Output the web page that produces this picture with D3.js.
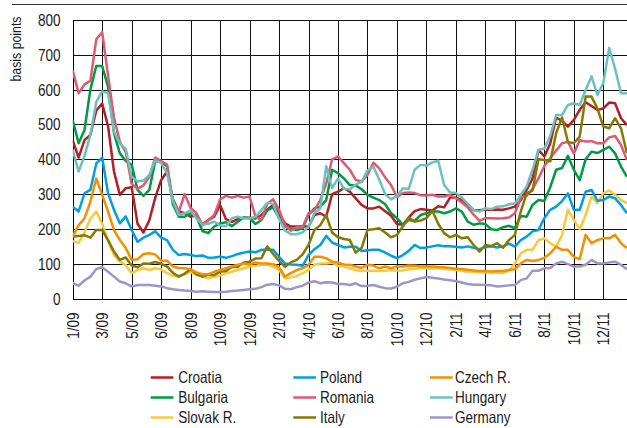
<!DOCTYPE html>
<html><head><meta charset="utf-8">
<script src="https://cdn.jsdelivr.net/npm/d3@7"></script>
<style>
body{margin:0;background:#fff}
svg text{font-family:"Liberation Sans",Arial,sans-serif;fill:#1a1a1a}
</style></head><body>
<svg id="c" width="627" height="428"></svg>
<script>
// x labels (equally spaced ticks); 5 samples per tick interval
const tickLabels = ["1/09","3/09","5/09","6/09","8/09","10/09","12/09","2/10","4/10","6/10","8/10","10/10","12/10","2/11","4/11","6/11","8/11","10/11","12/11"];
const yTicks = [0,100,200,300,400,500,600,700,800];
const samplesPerTick = 5;

const croatia = [455,405,455,470,540, 560,495,365,298,317, 320,215,190,225,290, 340,365,285,250,245,
  235,240,213,226,235, 269,228,220,228,232, 232,230,240,255,269, 245,216,207,207,207,
  207,240,245,235,300, 307,317,307,288,269, 259,259,264,251,238, 214,212,233,251,257,
  255,253,265,262,290, 290,283,269,254,254, 256,255,256,255,259, 264,283,312,345,427,
  408,446,520,510,494, 513,542,564,553,542, 546,563,561,518,498];
const bulgaria = [513,446,484,600,668, 668,608,475,417,395, 385,312,295,312,395, 392,380,270,235,235,
  245,236,194,188,207, 216,219,208,221,233, 231,214,226,253,262, 231,207,201,197,202,
  240,259,264,283,370, 360,345,326,325,314, 298,290,283,271,245, 231,211,226,223,240,
  245,250,250,245,250, 259,250,221,212,216, 214,199,197,205,209, 202,237,235,269,283,
  280,320,370,375,410, 370,340,400,422,418, 427,436,417,379,350];
const slovak = [165,160,190,230,250, 215,165,125,106,96, 73,82,87,82,87, 84,73,65,65,69,
  77,68,63,58,63, 66,73,77,82,87, 92,94,97,97,92, 82,58,61,65,73,
  82,97,101,101,103, 94,92,87,82,79, 80,80,79,80,82, 80,81,84,86,87,
  87,86,87,85,84, 82,80,78,77,76, 75,74,74,74,80, 101,130,140,140,168,
  173,159,149,183,255, 226,199,240,293,274, 302,310,298,283,274];
const poland = [264,250,302,312,388, 405,302,255,216,236, 197,163,175,183,193, 175,168,140,125,128,
  125,122,124,117,118, 120,117,122,128,132, 135,133,140,140,140, 120,101,98,97,94,
  125,142,154,180,161, 154,147,149,149,137, 139,140,140,132,123, 116,125,137,154,145,
  147,150,153,150,150, 149,147,150,146,142, 148,150,147,150,158, 149,168,178,193,197,
  231,255,264,280,302, 255,255,307,312,281, 283,293,288,269,245];
const romania = [655,590,615,625,745, 765,640,520,450,420, 330,315,325,350,405, 395,385,279,250,300,
  260,245,210,225,240, 285,295,290,295,290, 293,235,226,272,285, 255,210,195,205,205,
  245,254,283,330,400, 408,389,370,341,336, 355,390,374,348,326, 291,303,305,303,297,
  296,298,293,293,298, 288,276,262,241,223, 231,231,230,231,233, 245,290,295,315,345,
  381,403,425,446,450, 417,455,451,452,446, 446,463,467,441,398];
const italy = [178,180,182,175,197, 197,168,135,111,118, 95,90,101,100,105, 100,92,74,63,72,
  84,70,63,68,68, 77,79,91,91,104, 106,115,116,150,128, 108,91,104,111,127,
  154,197,211,240,190, 176,171,168,132,145, 197,199,202,190,176, 183,207,233,221,224,
  231,252,215,188,176, 183,173,176,154,135, 154,151,159,146,168, 183,250,302,310,400,
  398,394,475,520,450, 446,465,580,580,546, 494,489,518,489,418];
const czech = [178,211,230,278,345, 298,250,197,168,145, 111,113,128,130,127, 109,109,92,88,87,
  84,75,70,70,77, 82,87,92,97,101, 98,104,101,101,99, 90,63,73,82,87,
  97,120,120,116,106, 103,98,97,92,88, 97,95,87,92,87, 92,92,95,94,92,
  92,92,91,90,88, 86,85,83,81,79, 79,78,79,79,82, 84,101,111,108,111,
  117,130,149,140,140, 120,113,183,159,168, 173,173,183,159,145];
const hungary = [427,365,410,470,565, 595,590,480,445,430, 350,336,339,355,398, 389,360,280,240,245,
  253,230,213,215,221, 210,208,231,235,230, 230,235,254,275,272, 228,196,185,185,190,
  207,245,259,380,317, 345,315,314,327,335, 368,379,341,300,285, 295,317,315,370,384,
  382,391,396,326,305, 303,290,272,254,250, 259,257,264,265,271, 273,298,322,370,427,
  431,467,527,527,556, 561,556,599,638,585, 619,720,660,590,590];
const germany = [44,37,52,63,85, 90,77,63,49,44, 35,39,39,39,37, 35,30,27,25,23,
  22,20,21,20,19, 19,20,22,23,25, 27,28,33,40,42, 38,28,27,33,37,
  46,50,44,47,46, 42,42,39,44,36, 37,39,34,30,29, 34,44,48,54,58,
  62,60,58,55,53, 50,46,42,40,40, 39,38,35,36,38, 39,53,58,80,80,
  87,88,101,106,99, 92,92,97,111,101, 101,104,106,97,84];

const names = ["Croatia","Bulgaria","Slovak R.","Poland","Romania","Italy","Czech R.","Hungary","Germany"];
const valuesList = [croatia,bulgaria,slovak,poland,romania,italy,czech,hungary,germany];
const colors = ["#b41f24","#009a44","#f8c93c","#009fdf","#dc5a72","#857a00","#f29100","#6cc0be","#9d95c9"];

const W = 627, H = 428;
const M = {left:72.7, right:626, top:20, bottom:298.6};
const svg = d3.select("#c");

// condense text like a narrow face
function condense(sel, f){
  sel.each(function(){
    const w = this.getComputedTextLength();
    d3.select(this).attr("textLength", w*f).attr("lengthAdjust","spacingAndGlyphs");
  });
}
const snap = v => Math.round(v) + 0.5;

// top rule
svg.append("line").attr("x1",12).attr("x2",627).attr("y1",4.5).attr("y2",4.5)
  .attr("stroke","#333").attr("stroke-width",1);

const x = d3.scaleLinear().domain([0,18.77]).range([M.left,M.right]);
const y = d3.scaleLinear().domain([0,800]).range([M.bottom,M.top]);

// y axis with grid
const gy = svg.append("g").attr("transform",`translate(${snap(M.left)-0.5},0)`)
  .call(d3.axisLeft(y).tickValues(yTicks).tickSize(-(W-M.left)).tickPadding(12.5).tickFormat(d3.format("d")));
gy.select(".domain").remove();
gy.selectAll(".tick").attr("transform", d => `translate(0,${snap(y(d))})`);
gy.selectAll(".tick line").attr("stroke","#111").attr("stroke-width",1);
gy.selectAll(".tick text").style("font-size","16.5px").attr("fill","#1a1a1a");
condense(gy.selectAll(".tick text"), 0.82);

// x axis with grid
const gx = svg.append("g").attr("transform",`translate(0,${snap(M.bottom)-0.5})`)
  .call(d3.axisBottom(x).tickValues(d3.range(tickLabels.length)).tickSize(-(M.bottom-M.top)).tickFormat(i=>tickLabels[i]));
gx.select(".domain").remove();
gx.selectAll(".tick").attr("transform", d => `translate(${snap(x(d))},0)`);
gx.selectAll(".tick line").attr("stroke","#111").attr("stroke-width",1);
gx.selectAll(".tick text").style("font-size","16.5px").attr("fill","#1a1a1a")
  .attr("transform","rotate(-90)").attr("x",-13.4).attr("y",0).attr("dy","0.35em")
  .style("text-anchor","end");
condense(gx.selectAll(".tick text"), 0.82);

// frame left & bottom
svg.append("line").attr("x1",snap(M.left)).attr("x2",snap(M.left)).attr("y1",snap(M.top)).attr("y2",snap(M.bottom)).attr("stroke","#000");
svg.append("line").attr("x1",snap(M.left)).attr("x2",W).attr("y1",snap(M.bottom)).attr("y2",snap(M.bottom)).attr("stroke","#000");

// y label
const yl = svg.append("text").attr("transform","translate(21,49) rotate(-90)")
  .style("text-anchor","middle").style("font-size","15px").text("basis points");
condense(yl, 0.82);

// clip
svg.append("clipPath").attr("id","clip").append("rect")
  .attr("x",M.left).attr("y",M.top-5).attr("width",W-M.left).attr("height",M.bottom-M.top+5);

const line = d3.line().x((d,i)=>x(i/samplesPerTick)).y(d=>y(d));
const gl = svg.append("g").attr("clip-path","url(#clip)");
valuesList.forEach((vals,k)=>{
  gl.append("path").datum(vals).attr("d",line).attr("fill","none")
    .attr("stroke",colors[k]).attr("stroke-width",2.5).attr("stroke-linejoin","round");
});

// legend
const colSw = [150.7,293.3,430], colTx = [178.3,320,455], rowY = [377.5,397.5,417.5];
names.forEach((n,k)=>{
  const c = Math.floor(k/3), r = k%3;
  svg.append("line").attr("x1",colSw[c]).attr("x2",colSw[c]+22.7).attr("y1",rowY[r]).attr("y2",rowY[r])
    .attr("stroke",colors[k]).attr("stroke-width",2.5);
  const t = svg.append("text").attr("x",colTx[c]).attr("y",rowY[r]).attr("dy","0.35em")
    .style("font-size","16.5px").text(n);
  condense(t, 0.82);
});
</script>
</body></html>
